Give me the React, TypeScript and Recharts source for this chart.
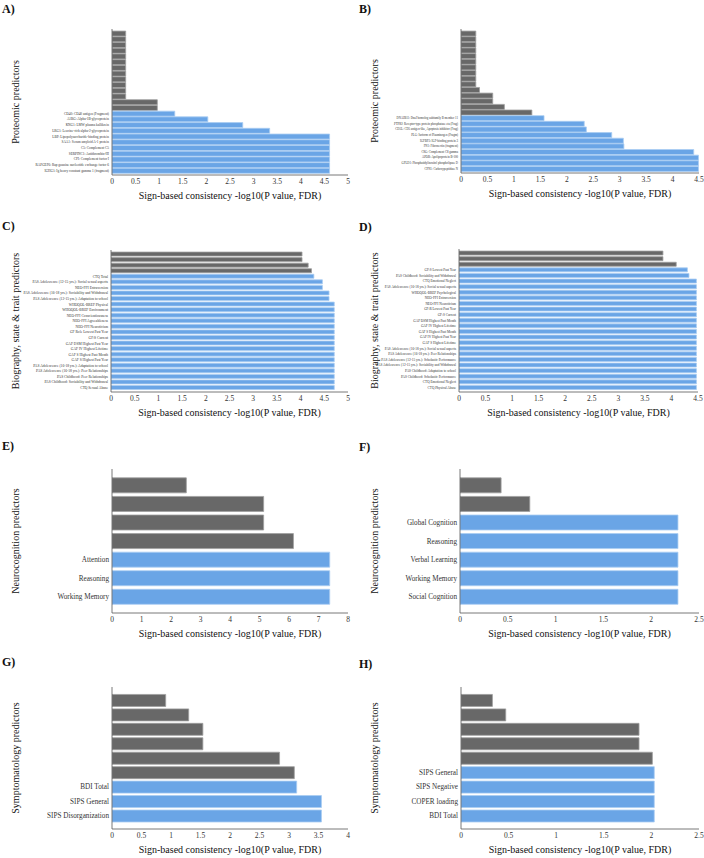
import React from 'react';
import { BarChart, Bar, XAxis, YAxis, Cell, Label } from 'recharts';

const FONT = '"Liberation Serif", "DejaVu Serif", serif';
const SIG_FILL = '#6aa5e6';
const SIG_EDGE = '#a9cdf3';
const NS_FILL = '#686868';
const NS_EDGE = '#9e9e9e';
const FRAME = '#555555';
const X_TITLE = 'Sign-based consistency -log10(P value, FDR)';

// x tick sets
const ticks25 = [0, 0.5, 1, 1.5, 2, 2.5];
const ticks4 = [0, 0.5, 1, 1.5, 2, 2.5, 3, 3.5, 4];
const ticks45 = [0, 0.5, 1, 1.5, 2, 2.5, 3, 3.5, 4, 4.5];
const ticks5 = [0, 0.5, 1, 1.5, 2, 2.5, 3, 3.5, 4, 4.5, 5];
const ticks8 = [0, 1, 2, 3, 4, 5, 6, 7, 8];

// A) proteomics, LV3
const protLv3Grey = [0.29, 0.29, 0.29, 0.29, 0.29, 0.29, 0.29, 0.29, 0.29, 0.29, 0.29, 0.29, 0.96, 0.96];
const protLv3Labels = [
  'CD40: CD40 antigen (Fragment)',
  'A1BG: Alpha-1B-glycoprotein',
  'KNG1: LMW plasma kallikrein',
  'LRG1: Leucine-rich alpha-2-glycoprotein',
  'LBP: Lipopolysaccharide-binding protein',
  'SAA1: Serum amyloid A-1 protein',
  'C5: Complement C5',
  'SERPINC1: Antithrombin-III',
  'CFI: Complement factor I',
  'RAPGEF6: Rap guanine nucleotide exchange factor 6',
  'IGHG1: Ig heavy constant gamma 1 (fragment)',
];
const protLv3Values = [1.33, 2.03, 2.77, 3.34, 4.61, 4.61, 4.61, 4.61, 4.61, 4.61, 4.61];

// B) proteomics, LV4
const protLv4Grey = [0.28, 0.28, 0.28, 0.28, 0.28, 0.28, 0.28, 0.28, 0.28, 0.28, 0.35, 0.6, 0.6, 0.82, 1.34];
const protLv4Labels = [
  'DNAJB11: DnaJ homolog subfamily B member 11',
  'PTPRJ: Receptor-type protein phosphatase eta (Frag)',
  'CD5L: CD5 antigen-like, Apoptosis inhibitor (Frag)',
  'PLG: Isoform of Plasminogen (Fragm)',
  'IGFBP3: IGF-binding protein 3',
  'FN1: Fibronectin (fragment)',
  'C8G: Complement C8 gamma',
  'APOB: Apolipoprotein B-100',
  'GPLD1: Phosphatidylinositol phospholipase D',
  'CPN1: Carboxypeptidase N',
];
const protLv4Values = [1.57, 2.33, 2.37, 2.85, 3.07, 3.08, 4.4, 4.49, 4.49, 4.49];

// C) biography, state & trait, LV3
const bioLv3Grey = [4.03, 4.03, 4.16, 4.23];
const bioLv3Labels = [
  'CTQ Total',
  'PAS Adolescence (12-15 yrs.): Social sexual aspects',
  'NEO-FFI Extraversion',
  'PAS Adolescence (16-18 yrs.): Sociability and Withdrawal',
  'PAS Adolescence (12-15 yrs.): Adaptation to school',
  'WHOQOL-BREF Physical',
  'WHOQOL-BREF Environment',
  'NEO-FFI Conscientiousness',
  'NEO-FFI Agreeableness',
  'NEO-FFI Neuroticism',
  'GF Role Lowest Past Year',
  'GF:S Current',
  'GAF DSM Highest Past Year',
  'GAF IV Highest Lifetime',
  'GAF S Highest Past Month',
  'GAF S Highest Past Year',
  'PAS Adolescence (16-18 yrs.): Adaptation to school',
  'PAS Adolescence (16-18 yrs.): Peer Relationships',
  'PAS Childhood: Peer Relationships',
  'PAS Childhood: Sociability and Withdrawal',
  'CTQ Sexual Abuse',
];
const bioLv3Values = [
  4.28, 4.46, 4.46, 4.6, 4.6, 4.71, 4.71, 4.71, 4.71, 4.71, 4.71,
  4.71, 4.71, 4.71, 4.71, 4.71, 4.71, 4.71, 4.71, 4.71, 4.71,
];

// D) biography, state & trait, LV4
const bioLv4Grey = [3.84, 3.84, 4.09];
const bioLv4Labels = [
  'GF:S Lowest Past Year',
  'PAS Childhood: Sociability and Withdrawal',
  'CTQ Emotional Neglect',
  'PAS Adolescence (16-18 yrs.): Social sexual aspects',
  'WHOQOL-BREF Psychological',
  'NEO-FFI Extraversion',
  'NEO-FFI Neuroticism',
  'GF:R Lowest Past Year',
  'GF:S Current',
  'GAF DSM Highest Past Month',
  'GAF IV Highest Lifetime',
  'GAF S Highest Past Month',
  'GAF IV Highest Past Year',
  'GAF S Highest Lifetime',
  'PAS Adolescence (16-18 yrs.): Social sexual aspects',
  'PAS Adolescence (16-18 yrs.): Peer Relationships',
  'PAS Adolescence (12-15 yrs.): Scholastic Performance',
  'PAS Adolescence (12-15 yrs.): Sociability and Withdrawal',
  'PAS Childhood: Adaptation to school',
  'PAS Childhood: Scholastic Performance',
  'CTQ Emotional Neglect',
  'CTQ Physical Abuse',
];
const bioLv4Values = [
  4.3, 4.33, 4.47, 4.47, 4.47, 4.47, 4.47, 4.47, 4.47, 4.47, 4.47,
  4.47, 4.47, 4.47, 4.47, 4.47, 4.47, 4.47, 4.47, 4.47, 4.47, 4.47,
];

// E) neurocognition, LV3
const neuroLv3Grey = [2.52, 5.14, 5.14, 6.15];
const neuroLv3Labels = ['Attention', 'Reasoning', 'Working Memory'];
const neuroLv3Values = [7.38, 7.38, 7.38];

// F) neurocognition, LV4
const neuroLv4Grey = [0.43, 0.73];
const neuroLv4Labels = ['Global Cognition', 'Reasoning', 'Verbal Learning', 'Working Memory', 'Social Cognition'];
const neuroLv4Values = [2.28, 2.28, 2.28, 2.28, 2.28];

// G) symptomatology, LV3
const sympLv3Grey = [0.91, 1.3, 1.54, 1.54, 2.84, 3.09];
const sympLv3Labels = ['BDI Total', 'SIPS General', 'SIPS Disorganization'];
const sympLv3Values = [3.13, 3.55, 3.55];

// H) symptomatology, LV4
const sympLv4Grey = [0.33, 0.47, 1.87, 1.87, 2.01];
const sympLv4Labels = ['SIPS General', 'SIPS Negative', 'COPER loading', 'BDI Total'];
const sympLv4Values = [2.03, 2.03, 2.03, 2.03];

const CHART_W = 352;
const Y_AXIS_W = 100;
const X_AXIS_H = 26;

type Rect = { x0: number; x1: number; y0: number; y1: number };

interface PanelProps {
  letter: string;
  letterY: number;
  left: number;
  top: number;
  height: number;
  plot: Rect;
  title: string;
  yTitle: string;
  grey: number[];
  sigLabels: string[];
  sigValues: number[];
  xTicks: number[];
  labelSize: number;
  pad: number;
}

// single-line category label (the default tick wraps long names)
const NameTick = ({ x, y, payload, names, size }: any) => (
  <text
    x={x}
    y={y}
    dy="0.35em"
    textAnchor="end"
    fontSize={size}
    fill="#333"
    fontFamily={FONT}
  >
    {names[payload.value] ?? ''}
  </text>
);

const Panel: React.FC<PanelProps> = ({
  letter, letterY, left, top, height, plot, title, yTitle,
  grey, sigLabels, sigValues, xTicks, labelSize, pad,
}) => {
  const data = [
    ...grey.map((value, i) => ({ id: i, name: '', value, sig: false })),
    ...sigValues.map((value, i) => ({ id: grey.length + i, name: sigLabels[i], value, sig: true })),
  ];
  const names = data.map(d => d.name);
  const xMax = xTicks[xTicks.length - 1];
  const margin = {
    top: plot.y0 - top,
    right: left + CHART_W - plot.x1,
    bottom: top + height - plot.y1 - X_AXIS_H,
    left: plot.x0 - left - Y_AXIS_W,
  };
  // rotated y title sits at a fixed column per side
  const yTitleX = (left === 0 ? 15 : 374) - left;
  const yPad = { top: pad, bottom: pad };
  const frameLine = { stroke: FRAME, strokeWidth: 0.8 };

  return (
    <div style={{ position: 'absolute', left, top, width: CHART_W, height }}>
      <div
        style={{
          position: 'absolute',
          left: left === 0 ? 2 : 7,
          top: letterY - top,
          fontSize: 12,
          lineHeight: '12px',
          fontWeight: 700,
          color: '#111',
        }}
      >
        {letter}
      </div>
      <BarChart
        width={CHART_W}
        height={height}
        data={data}
        layout="vertical"
        margin={margin}
        barCategoryGap="10%"
      >
        <XAxis
          xAxisId="x"
          type="number"
          domain={[0, xMax]}
          ticks={xTicks}
          interval={0}
          allowDataOverflow
          height={X_AXIS_H}
          tickLine={false}
          tickSize={0}
          tickMargin={4}
          axisLine={frameLine}
          tick={{ fontSize: 7.5, fill: '#333', fontFamily: FONT }}
        >
          <Label
            value={X_TITLE}
            position="insideBottom"
            offset={2}
            style={{ fontSize: 10, fill: '#111', fontFamily: FONT }}
          />
        </XAxis>
        <XAxis
          xAxisId="xIn"
          type="number"
          orientation="bottom"
          mirror
          domain={[0, xMax]}
          ticks={xTicks}
          interval={0}
          height={0}
          tick={false}
          tickSize={2}
          tickLine={frameLine}
          axisLine={false}
        />
        <XAxis
          xAxisId="top"
          type="number"
          orientation="top"
          mirror
          domain={[0, xMax]}
          ticks={xTicks}
          interval={0}
          height={0}
          tick={false}
          tickSize={2}
          tickLine={frameLine}
          axisLine={frameLine}
        >
          <Label
            value={title}
            position="top"
            offset={4}
            style={{ fontSize: 10, fill: '#111', fontFamily: FONT }}
          />
        </XAxis>
        <YAxis
          yAxisId="y"
          type="category"
          dataKey="id"
          width={Y_AXIS_W}
          interval={0}
          padding={yPad}
          tickLine={false}
          tickSize={0}
          tickMargin={3}
          axisLine={frameLine}
          tick={(props: any) => <NameTick {...props} names={names} size={labelSize} />}
        >
          <Label
            value={yTitle}
            angle={-90}
            position="insideLeft"
            offset={yTitleX - (plot.x0 - left - Y_AXIS_W)}
            style={{ fontSize: 10, fill: '#111', fontFamily: FONT, textAnchor: 'middle' }}
          />
        </YAxis>
        <YAxis
          yAxisId="yIn"
          type="category"
          dataKey="id"
          orientation="left"
          mirror
          width={0}
          interval={0}
          padding={yPad}
          tick={false}
          tickSize={2}
          tickLine={frameLine}
          axisLine={false}
        />
        <YAxis
          yAxisId="yR"
          type="category"
          dataKey="id"
          orientation="right"
          mirror
          width={0}
          interval={0}
          padding={yPad}
          tick={false}
          tickSize={2}
          tickLine={frameLine}
          axisLine={frameLine}
        />
        <Bar dataKey="value" xAxisId="x" yAxisId="y" strokeWidth={0.8} isAnimationActive={false}>
          {data.map(d => (
            <Cell
              key={d.id}
              fill={d.sig ? SIG_FILL : NS_FILL}
              stroke={d.sig ? SIG_EDGE : NS_EDGE}
            />
          ))}
        </Bar>
      </BarChart>
    </div>
  );
};

export default function App() {
  return (
    <div
      style={{
        position: 'absolute',
        left: 0,
        top: 0,
        width: 704,
        height: 858,
        background: '#ffffff',
        fontFamily: FONT,
      }}
    >
      <Panel
        letter="A)" letterY={3} left={0} top={0} height={210}
        plot={{ x0: 112, x1: 348, y0: 29, y1: 175 }}
        title="LV3 high vs. low scorers - BAC = 87.73 %"
        yTitle="Proteomic predictors"
        grey={protLv3Grey} sigLabels={protLv3Labels} sigValues={protLv3Values}
        xTicks={ticks5} labelSize={3.4} pad={1.5}
      />
      <Panel
        letter="B)" letterY={3} left={352} top={0} height={210}
        plot={{ x0: 461, x1: 699, y0: 29, y1: 173 }}
        title="LV4 high vs. low scorers - BAC = 89.60 %"
        yTitle="Proteomic predictors"
        grey={protLv4Grey} sigLabels={protLv4Labels} sigValues={protLv4Values}
        xTicks={ticks45} labelSize={3} pad={1.5}
      />
      <Panel
        letter="C)" letterY={220} left={0} top={210} height={220}
        plot={{ x0: 111, x1: 348, y0: 250, y1: 392 }}
        title="LV3 high vs. low scorers - BAC = 67.97 %"
        yTitle="Biography, state & trait predictors"
        grey={bioLv3Grey} sigLabels={bioLv3Labels} sigValues={bioLv3Values}
        xTicks={ticks5} labelSize={3.6} pad={1.5}
      />
      <Panel
        letter="D)" letterY={221} left={352} top={210} height={220}
        plot={{ x0: 459, x1: 698, y0: 249, y1: 392 }}
        title="LV4 high vs. low scorers - BAC = 78.00 %"
        yTitle="Biography, state & trait predictors"
        grey={bioLv4Grey} sigLabels={bioLv4Labels} sigValues={bioLv4Values}
        xTicks={ticks45} labelSize={3.4} pad={1.5}
      />
      <Panel
        letter="E)" letterY={440} left={0} top={430} height={215}
        plot={{ x0: 112, x1: 348, y0: 469, y1: 613 }}
        title="LV3 high vs. low scorers - BAC = 65.06 %"
        yTitle="Neurocognition predictors"
        grey={neuroLv3Grey} sigLabels={neuroLv3Labels} sigValues={neuroLv3Values}
        xTicks={ticks8} labelSize={7.2} pad={7}
      />
      <Panel
        letter="F)" letterY={441} left={352} top={430} height={215}
        plot={{ x0: 460, x1: 699, y0: 469, y1: 613 }}
        title="LV4 high vs. low scorers - BAC = 55.73 %"
        yTitle="Neurocognition predictors"
        grey={neuroLv4Grey} sigLabels={neuroLv4Labels} sigValues={neuroLv4Values}
        xTicks={ticks25} labelSize={7.2} pad={7}
      />
      <Panel
        letter="G)" letterY={656} left={0} top={645} height={213}
        plot={{ x0: 112, x1: 348, y0: 687, y1: 829 }}
        title="LV3 high vs. low scorers - BAC = 40.30 %"
        yTitle="Symptomatology predictors"
        grey={sympLv3Grey} sigLabels={sympLv3Labels} sigValues={sympLv3Values}
        xTicks={ticks4} labelSize={7.2} pad={6}
      />
      <Panel
        letter="H)" letterY={658} left={352} top={645} height={213}
        plot={{ x0: 461, x1: 699, y0: 687, y1: 829 }}
        title="LV4 high vs. low scorers - BAC = 74.25 %"
        yTitle="Symptomatology predictors"
        grey={sympLv4Grey} sigLabels={sympLv4Labels} sigValues={sympLv4Values}
        xTicks={ticks25} labelSize={7.2} pad={6}
      />
    </div>
  );
}
